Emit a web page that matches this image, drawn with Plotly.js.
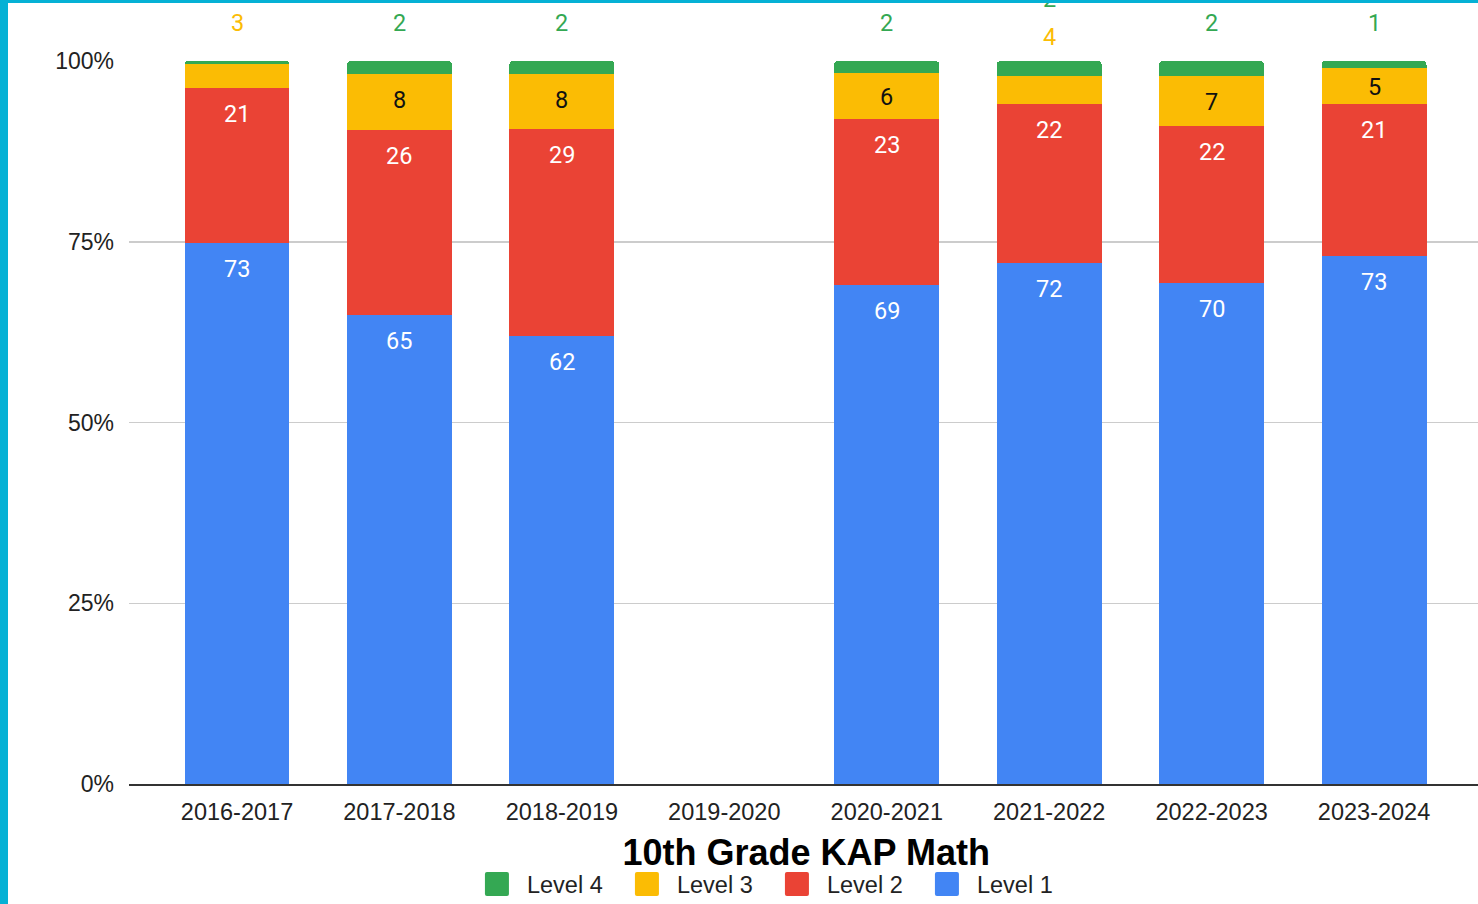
<!DOCTYPE html>
<html>
<head>
<meta charset="utf-8">
<script src="https://cdn.plot.ly/plotly-3.0.1.min.js"></script>
<style>
  html, body { margin: 0; padding: 0; background: #05b1d5; width: 1478px; height: 904px; overflow: hidden; }
  #chart { position: absolute; left: 8px; top: 3px; width: 1470px; height: 901px; background: #ffffff; }
</style>
</head>
<body>
<div id="chart"></div>
<script>
const years = ["2016-2017", "2017-2018", "2018-2019", "2019-2020", "2020-2021", "2021-2022", "2022-2023", "2023-2024"];
const level1 = [73, 65, 62, null, 69, 72, 70, 73];
const level2 = [20.8, 25.6, 28.6, null, 23, 22, 22, 21];
const level3 = [3.3, 7.8, 7.6, null, 6.4, 3.9, 7, 5];
const level4 = [0.4, 1.8, 1.8, null, 1.6, 2.1, 2.1, 1];

const seriesNames = ["Level 1", "Level 2", "Level 3", "Level 4"];
const seriesColors = ["#4285F4", "#EA4335", "#FBBC04", "#34A853"];
const insideTextColors = ["#ffffff", "#ffffff", "#111111", "#111111"];
const series = [level1, level2, level3, level4];

const traces = series.map((vals, k) => ({
  type: "bar",
  name: seriesNames[k],
  x: years,
  y: vals,
  marker: { color: seriesColors[k], line: { width: 0 } },
  hoverinfo: "x+y+name"
}));

// Data labels built from the values, placed through data coordinates
const labelFont = "Roboto, 'Open Sans', sans-serif";
const annotations = [];
years.forEach((yr, i) => {
  const vals = series.map(s => s[i]);
  if (vals.some(v => v === null)) return;
  const total = vals.reduce((a, b) => a + b, 0);
  let cum = 0;
  const outside = [];
  vals.forEach((v, k) => {
    const pct = v / total * 100;
    cum += pct;
    const label = Math.round(v);
    if (label < 1) return;
    if (pct >= 5) {
      const d = Math.min(3.6, pct / 2 + 0.15);
      annotations.push({
        x: yr, y: cum - d, xref: "x", yref: "y",
        text: String(label), showarrow: false, yanchor: "middle",
        font: { family: labelFont, size: 23.5, color: insideTextColors[k] }
      });
    } else {
      outside.push({ label, k });
    }
  });
  const shifts = outside.length === 1 ? [38] : [24, 62];
  outside.forEach((o, j) => {
    annotations.push({
      x: yr, y: 100, xref: "x", yref: "y", yshift: shifts[j],
      text: String(o.label), showarrow: false, yanchor: "middle",
      font: { family: labelFont, size: 23.5, color: seriesColors[o.k] }
    });
  });
});

const layout = {
  width: 1470,
  height: 901,
  paper_bgcolor: "#ffffff",
  plot_bgcolor: "#ffffff",
  margin: { l: 121, r: 0, t: 58, b: 120, pad: 0 },
  barmode: "stack",
  barnorm: "percent",
  bargap: 0.354,
  barcornerradius: 4,
  font: { family: "'Liberation Sans', Arial, sans-serif", color: "#222222" },
  title: {
    text: "<b>10th Grade KAP Math</b>",
    font: { family: "'Liberation Sans', Arial, sans-serif", size: 36, color: "#000000" },
    xref: "container", yref: "container",
    x: 0.543, xanchor: "center",
    y: 0.057, yanchor: "middle"
  },
  xaxis: {
    type: "category",
    range: [-0.665, 7.640],
    showgrid: false,
    showline: true,
    linecolor: "#333333",
    linewidth: 1.5,
    ticks: "",
    ticklabelstandoff: 6,
    tickfont: { size: 23.5, color: "#222222" },
    fixedrange: true
  },
  yaxis: {
    range: [0, 100],
    tickvals: [0, 25, 50, 75, 100],
    ticktext: ["0%", "25%", "50%", "75%", "100%"],
    showgrid: true,
    gridcolor: "#cccccc",
    gridwidth: 1.5,
    zeroline: false,
    showline: false,
    ticks: "",
    ticklabelstandoff: 14,
    tickfont: { size: 23, color: "#222222" },
    fixedrange: true
  },
  showlegend: true,
  legend: {
    orientation: "h",
    traceorder: "reversed",
    xref: "container", yref: "container",
    x: 0.319, xanchor: "left",
    y: 0.022, yanchor: "middle",
    entrywidth: 95,
    entrywidthmode: "pixels",
    itemwidth: 40,
    font: { size: 23.5, color: "#222222" },
    bgcolor: "rgba(0,0,0,0)"
  },
  annotations: annotations
};

Plotly.newPlot("chart", traces, layout, { displayModeBar: false, staticPlot: true }).then(() => {
  // enlarge legend swatches to match the reference's square keys
  document.querySelectorAll("#chart .legend .legendpoints path").forEach(p => {
    p.setAttribute("d", "M-15,-12H5A2,2 0 0 1 7,-10V10A2,2 0 0 1 5,12H-15A2,2 0 0 1 -17,10V-10A2,2 0 0 1 -15,-12Z");
  });
});
</script>
</body>
</html>
